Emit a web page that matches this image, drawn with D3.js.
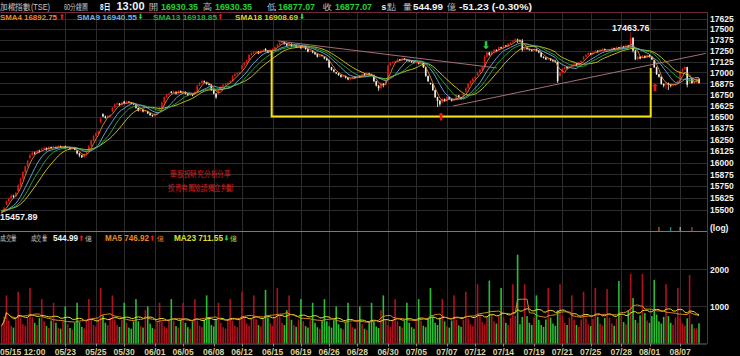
<!DOCTYPE html>
<html><head><meta charset="utf-8">
<script src="https://cdn.jsdelivr.net/npm/d3@7"></script>
<style>
body{margin:0;background:#000;}
svg{display:block;}
text{font-family:"Liberation Sans",Arial,sans-serif;}
</style></head>
<body><svg id="c" width="740" height="356"></svg>
<script>
// ---------- DATA ----------
const tickLabels = ["05/15 12:00","05/23","05/25","05/30","06/01","06/05","06/08","06/12","06/15","06/19","06/26","06/28","06/30","07/05","07/07","07/12","07/14","07/19","07/21","07/25","07/28","08/01","08/07"];
const tickBars   = [0,27,40,52,65,77,90,102,115,127,139,151,164,176,189,201,213,226,238,250,263,275,288];
const priceTicks = [17625,17500,17375,17250,17125,17000,16875,16750,16625,16500,16375,16250,16125,16000,15875,15750,15625,15500];
const volTicks = [1000,2000];
const priorCloses = [15530,15510,15500,15490,15520,15540,15530,15510,15500,15480,15470,15490,15500,15480,15470,15460,15475];

const opens = [
15470,15490,
15560,15590,15620,15650,15640, 15700,15760,15830,15900,15960, 16050,16080,16110,16100,16130, 16140,16150,16160,16140,16170,
16165,16170,16160,16180,16170, 16180,16160,16170,16150,16165, 16130,16100,16080,16060,16090, 16130,16180,16240,16290,16320, 16440,16530,16505,16490,16510,
16560,16600,16640,16650,16630, 16670,16650,16670,16660,16650, 16640,16600,16570,16580,16560,
16560,16540,16520,16510,16530, 16580,16600,16660,16720,16750,
16780,16770,16780,16760,16790, 16770,16780,16760,16740,16750, 16760,16780,16850,16880,16900, 16890,16870,16860,16800,16760, 16760,16800,16840,16860,16870,
16890,16900,16960,16980,16990, 17040,17080,17110,17140,17200, 17230,17230,17240,17220,17250, 17270,17250,17230,17260,17270, 17300,17320,17340,17350,17330,
17320,17330,17300,17310,17290, 17300,17280,17300,17270,17240, 17250,17230,17210,17180,17200,
17180,17160,17140,17060,17030, 17000,16990,16970,16950,16960, 16940,16920,16930,16950,16940, 16960,16950,16980,16970,16990, 16980,16970,16900,16850,16820,
16870,16860,16910,17080,17110, 17130,17130,17150,17140,17160, 17150,17140,17130,17120,17110, 17110,17100,17110,17060,16960, 16880,16870,16800,16720,16680,
16660,16700,16680,16720,16700, 16690,16690,16740,16720,16700, 16780,16820,16870,16900,16930, 16970,17000,17030,17060,17180, 17230,17200,17240,17260,17250,
17290,17280,17310,17300,17330, 17350,17360,17380,17370,17365, 17260,17280,17270,17260,17250, 17270,17250,17230,17180,17170, 17150,17160,17140,17130,17120,
16960,17000,17040,17060,17050, 17080,17090,17100,17080,17110, 17150,17180,17200,17220,17210, 17240,17250,17240,17260,17270, 17250,17250,17260,17280,17270,
17290,17280,17300,17290,17310,
17290,17400,17250,17150,17180, 17170,17190,17170,17200,17180, 17140,17060,16980,16950,16870, 16860,16880,16861,16850,16860,
16880,16900,17010,17040,17060, 16880,16924,16880,16884,16930.35
];
const highs = [
15500,15535,
15600,15630,15665,15660,15690, 15770,15840,15910,15970,16030, 16100,16125,16120,16140,16140, 16165,16175,16165,16180,16175,
16185,16175,16190,16185,16185, 16185,16180,16175,16170,16170, 16135,16110,16085,16100,16120, 16190,16250,16300,16330,16350, 16500,16540,16515,16520,16530,
16610,16650,16660,16655,16670, 16680,16680,16675,16665,16655, 16645,16605,16590,16585,16580,
16565,16545,16525,16540,16560, 16610,16670,16730,16760,16770,
16790,16795,16785,16800,16795, 16790,16785,16765,16760,16755, 16790,16860,16890,16920,16910, 16895,16880,16865,16810,16765, 16810,16850,16870,16880,16890,
16910,16970,16990,17000,17010, 17090,17120,17150,17210,17230, 17245,17250,17245,17260,17270, 17280,17255,17265,17280,17300, 17330,17350,17360,17355,17335,
17345,17335,17320,17315,17310, 17305,17310,17305,17275,17260, 17255,17235,17215,17210,17205,
17185,17165,17145,17065,17040, 17005,16995,16975,16970,16965, 16945,16935,16955,16955,16965, 16965,16985,16990,17000,16995, 16985,16975,16905,16860,16890,
16880,16920,17090,17120,17130, 17140,17160,17155,17170,17165, 17155,17145,17140,17125,17130, 17115,17120,17115,17065,16965, 16885,16875,16805,16725,16690,
16710,16705,16730,16725,16705, 16700,16750,16745,16725,16770, 16830,16880,16910,16940,16960, 17010,17040,17070,17200,17240, 17235,17250,17270,17265,17300,
17295,17320,17315,17340,17350, 17370,17395,17390,17380,17385, 17285,17290,17275,17265,17275, 17275,17255,17235,17185,17175, 17170,17165,17145,17140,17125,
17010,17050,17070,17065,17080, 17100,17110,17105,17120,17140, 17190,17210,17230,17225,17240, 17260,17255,17270,17280,17275, 17255,17270,17290,17285,17300,
17295,17310,17305,17320,17315,
17463.76,17405,17260,17190,17185, 17200,17195,17210,17205,17185, 17145,17065,16985,16955,16875, 16890,16885,16870,16870,16880,
16910,17020,17050,17070,17065, 16935,16930,16900,16940,16930.35
];
const lows = [
15457.89,15480,
15550,15580,15610,15625,15635, 15695,15750,15820,15890,15950, 16040,16070,16085,16095,16110, 16130,16140,16130,16135,16150,
16155,16150,16155,16160,16165, 16150,16155,16140,16145,16135, 16090,16060,16050,16055,16085, 16125,16175,16230,16280,16310, 16430,16495,16480,16485,16500,
16550,16595,16630,16620,16625, 16640,16645,16650,16640,16630, 16590,16560,16560,16550,16555,
16530,16510,16500,16505,16525, 16575,16595,16650,16710,16740,
16760,16765,16750,16755,16765, 16765,16750,16730,16735,16730, 16755,16775,16845,16870,16880, 16860,16850,16790,16750,16700, 16750,16795,16830,16850,16860,
16880,16895,16950,16970,16980, 17030,17070,17100,17135,17190, 17215,17225,17210,17215,17245, 17240,17220,17225,17255,17265, 17295,17315,17335,17320,17300,
17310,17290,17295,17280,17285, 17270,17275,17260,17230,17235, 17220,17200,17170,17175,17180,
17150,17130,17050,17020,17000, 16980,16960,16940,16945,16930, 16910,16905,16925,16930,16935, 16940,16945,16960,16965,16970, 16960,16890,16840,16790,16815,
16830,16850,16905,17070,17100, 17110,17125,17130,17135,17140, 17130,17120,17110,17100,17105, 17090,17095,17050,16950,16890, 16860,16790,16710,16610,16620,
16650,16670,16675,16690,16670, 16680,16685,16710,16690,16695, 16770,16815,16860,16890,16920, 16960,16990,17020,17055,17170, 17190,17195,17230,17240,17245,
17270,17275,17290,17295,17325, 17345,17355,17340,17350,17240, 17255,17260,17250,17240,17245, 17240,17220,17170,17160,17140, 17145,17130,17120,17110,16880,
16950,16990,17030,17040,17045, 17070,17085,17070,17075,17105, 17140,17175,17195,17200,17205, 17235,17230,17235,17255,17250, 17240,17245,17255,17260,17265,
17270,17275,17280,17285,17290,
17280,17230,17140,17140,17150, 17160,17160,17165,17170,17140, 17050,16970,16940,16860,16830, 16810,16800,16830,16840,16850,
16875,16895,17000,17030,16830, 16870,16870,16870,16880,16877.07
];
const closes = [
15490,15520,
15590,15620,15650,15640,15680, 15760,15830,15900,15960,16020, 16080,16110,16100,16130,16120, 16150,16160,16140,16170,16160,
16170,16160,16180,16170,16175, 16160,16170,16150,16165,16140, 16100,16080,16060,16090,16110, 16180,16240,16290,16320,16340, 16480,16505,16490,16510,16520,
16600,16640,16650,16630,16660, 16650,16670,16660,16650,16640, 16600,16570,16580,16560,16570,
16540,16520,16510,16530,16550, 16600,16660,16720,16750,16760,
16770,16780,16760,16790,16770, 16780,16760,16740,16750,16740, 16780,16850,16880,16900,16890, 16870,16860,16800,16760,16720, 16800,16840,16860,16870,16880,
16900,16960,16980,16990,17000, 17080,17110,17140,17200,17220, 17230,17240,17220,17250,17260, 17250,17230,17260,17270,17290, 17320,17340,17350,17330,17310,
17330,17300,17310,17290,17300, 17280,17300,17270,17240,17250, 17230,17210,17180,17200,17190,
17160,17140,17060,17030,17010, 16990,16970,16950,16960,16940, 16920,16930,16950,16940,16960, 16950,16980,16970,16990,16980, 16970,16900,16850,16820,16880,
16860,16910,17080,17110,17120, 17130,17150,17140,17160,17150, 17140,17130,17120,17110,17120, 17100,17110,17060,16960,16900, 16870,16800,16720,16680,16640,
16700,16680,16720,16700,16680, 16690,16740,16720,16700,16760, 16820,16870,16900,16930,16950, 17000,17030,17060,17180,17230, 17200,17240,17260,17250,17290,
17280,17310,17300,17330,17340, 17360,17380,17370,17365,17260, 17280,17270,17260,17250,17270, 17250,17230,17180,17170,17150, 17160,17140,17130,17120,16900,
17000,17040,17060,17050,17070, 17090,17100,17080,17110,17130, 17180,17200,17220,17210,17230, 17250,17240,17260,17270,17260, 17250,17260,17280,17270,17290,
17280,17300,17290,17310,17300,
17400,17250,17150,17180,17160, 17190,17170,17200,17180,17150, 17060,16980,16950,16870,16850, 16880,16861,16850,16860,16870,
16900,17010,17040,17060,16860, 16924,16880,16884,16930,16877.07
];
const volumes = [
480,720,
1300,620,480,430,650, 1400,700,520,480,700, 1500,720,560,500,690, 1200,600,470,420,620,
1100,560,430,400,600, 1000,520,420,380,560, 1100,580,450,410,620, 1200,640,500,460,650, 1500,760,560,500,700,
1300,650,500,450,640, 1100,560,430,400,600, 1200,600,470,430,900,
1000,540,420,390,580, 1100,580,460,420,620,
1200,620,470,430,640, 1100,560,440,400,600, 1200,620,480,440,640, 1300,660,500,460,660, 1100,560,440,400,620,
1200,620,480,440,650, 1400,700,540,480,680, 1300,660,500,460,660, 1450,700,540,480,700, 1500,740,560,500,900,
1300,640,500,450,650, 1200,600,470,430,630, 1100,560,440,400,610,
1200,600,470,430,630, 1000,520,410,380,580, 1100,560,440,400,600, 1000,520,400,370,570, 1100,580,460,420,900,
1300,650,500,450,650, 1200,600,470,430,620, 1100,560,440,400,600, 1200,620,480,440,660, 1500,720,560,500,700,
1200,600,470,430,620, 1300,640,490,450,640, 1400,680,520,470,670, 1600,760,580,520,720, 1700,800,600,540,740,
1500,720,560,500,700, 1600,750,2400,520,720, 1600,740,560,500,700, 1300,640,500,450,650, 1500,700,540,480,900,
1600,740,560,500,700, 1300,640,500,450,650, 1400,680,520,470,670, 1500,720,540,490,690, 1470,700,540,480,680,
1690,760,580,520,900,
1880,1230,640,560,760, 1880,820,620,560,740, 1720,780,600,540,720, 1600,740,560,500,700,
1500,700,540,480,680, 1850,520,410,409.6,544.99
];

// ---------- LAYOUT ----------
const W = 740, H = 356;
const panelTop = 12, panelSep = 231, volBase = 343.5, plotRight = 707;
const N = closes.length;
const svg = d3.select('#c');
svg.append('rect').attr('width', W).attr('height', H).attr('fill', '#000');

const x = d3.scaleLinear().domain([0, N - 1]).range([1.7, 699]);
const y = d3.scaleLog().domain([15283, 17704]).range([panelSep, panelTop]);
const yv = d3.scaleLinear().domain([0, 3040]).range([volBase, panelSep]);

const gridColor = '#2c2c2c';
const g = svg.append('g');
g.selectAll('.hp').data(priceTicks).join('line')
  .attr('x1', 0).attr('x2', plotRight).attr('y1', d => Math.round(y(d)) + 0.5).attr('y2', d => Math.round(y(d)) + 0.5)
  .attr('stroke', gridColor);
g.selectAll('.hv').data(volTicks).join('line')
  .attr('x1', 0).attr('x2', plotRight).attr('y1', d => Math.round(yv(d)) + 0.5).attr('y2', d => Math.round(yv(d)) + 0.5)
  .attr('stroke', gridColor);
g.selectAll('.vg').data(tickBars.slice(1)).join('line')
  .attr('x1', d => Math.round(x(d)) + 0.5).attr('x2', d => Math.round(x(d)) + 0.5)
  .attr('y1', panelTop).attr('y2', volBase)
  .attr('stroke', gridColor);

svg.append('line').attr('x1', 0).attr('x2', plotRight + 0.5).attr('y1', panelTop + 0.5).attr('y2', panelTop + 0.5).attr('stroke', '#6e2a3a');
svg.append('line').attr('x1', plotRight + 0.5).attr('x2', plotRight + 0.5).attr('y1', panelTop).attr('y2', volBase).attr('stroke', '#6e2a3a');
svg.append('line').attr('x1', 0).attr('x2', plotRight).attr('y1', panelSep + 0.5).attr('y2', panelSep + 0.5).attr('stroke', '#8a7078');
svg.append('line').attr('x1', 0).attr('x2', plotRight).attr('y1', volBase + 0.5).attr('y2', volBase + 0.5).attr('stroke', '#6a6a6a');

const axisP = d3.axisRight(y).tickValues(priceTicks).tickFormat(d3.format('d')).tickSize(0).tickPadding(3);
const ap = svg.append('g').attr('transform', `translate(${plotRight},0)`).call(axisP);
ap.select('.domain').remove();
ap.selectAll('text').attr('fill', '#f0f0f0').attr('font-size', 8.5).attr('font-weight', 'bold');
const axisV = d3.axisRight(yv).tickValues(volTicks).tickFormat(d3.format('d')).tickSize(0).tickPadding(3);
const av = svg.append('g').attr('transform', `translate(${plotRight},0)`).call(axisV);
av.select('.domain').remove();
av.selectAll('text').attr('fill', '#f0f0f0').attr('font-size', 8.5).attr('font-weight', 'bold');
svg.append('text').attr('x', plotRight + 3).attr('y', 231).text('(log)').attr('fill', '#f0f0f0').attr('font-size', 8.5).attr('font-weight', 'bold');

const bx = svg.append('g');
bx.selectAll('line').data(tickBars.slice(1)).join('line')
  .attr('x1', d => Math.round(x(d)) + 0.5).attr('x2', d => Math.round(x(d)) + 0.5)
  .attr('y1', volBase).attr('y2', volBase + 3).attr('stroke', '#8a8a8a');
bx.selectAll('text').data(tickLabels).join('text')
  .attr('x', (d, i) => i === 0 ? 0 : x(tickBars[i]))
  .attr('y', 354.5)
  .attr('text-anchor', (d, i) => i === 0 ? 'start' : 'middle')
  .attr('fill', '#dcd49c').attr('font-size', 8.5).attr('font-weight', 'bold')
  .text(d => d);

// ---------- VOLUME ----------
const idx = d3.range(N);
const isUp = i => closes[i] >= opens[i];
svg.append('g').selectAll('rect').data(idx).join('rect')
  .attr('x', i => x(i) - 0.8).attr('width', 1.6)
  .attr('y', i => yv(volumes[i])).attr('height', i => volBase - yv(volumes[i]))
  .attr('fill', i => isUp(i) ? '#b0101c' : '#28c030');

function movAvg(arr, k) {
  return idx.map(i => d3.mean(arr.slice(Math.max(0, i - k + 1), i + 1)));
}
const vma5 = movAvg(volumes, 5);
const vma23 = movAvg(volumes, 23);
const lineV = d3.line().x((d, i) => x(i)).y(d => yv(d));
svg.append('path').datum(vma23).attr('d', lineV).attr('fill', 'none').attr('stroke', '#e8e030').attr('stroke-width', 1);
svg.append('path').datum(vma5).attr('d', lineV).attr('fill', 'none').attr('stroke', '#e08a2a').attr('stroke-width', 1);

// ---------- CANDLES ----------
const cg = svg.append('g');
cg.selectAll('line').data(idx).join('line')
  .attr('x1', i => x(i)).attr('x2', i => x(i))
  .attr('y1', i => y(highs[i])).attr('y2', i => y(lows[i]))
  .attr('stroke', i => isUp(i) ? '#e01818' : '#f0f0f0').attr('stroke-width', 0.8);
cg.selectAll('rect').data(idx).join('rect')
  .attr('x', i => x(i) - 0.8).attr('width', 1.6)
  .attr('y', i => y(Math.max(opens[i], closes[i])))
  .attr('height', i => Math.max(1, y(Math.min(opens[i], closes[i])) - y(Math.max(opens[i], closes[i]))))
  .attr('fill', i => isUp(i) ? '#e01818' : '#f0f0f0');

// ---------- SMAs ----------
const full = priorCloses.concat(closes);
const P = priorCloses.length;
function sma(k) { return idx.map(i => d3.mean(full.slice(Math.max(0, i + P - k + 1), i + P + 1))); }
const lineP = d3.line().x((d, i) => x(i)).y(d => y(d));
const smaDefs = [[18, '#d8d020'], [13, '#28b040'], [9, '#70b0e0'], [4, '#e8882a']];
smaDefs.forEach(([k, c]) => {
  svg.append('path').datum(sma(k)).attr('d', lineP).attr('fill', 'none').attr('stroke', c).attr('stroke-width', 0.9);
});

// ---------- ANNOTATIONS ----------
const trendLines = [
  [[117.3, 17363], [210.2, 17051]],
  [[191.6, 16621], [298.9, 17219]]
];
trendLines.forEach(tl => {
  svg.append('line').attr('x1', x(tl[0][0])).attr('y1', y(tl[0][1])).attr('x2', x(tl[1][0])).attr('y2', y(tl[1][1]))
    .attr('stroke', '#b87880').attr('stroke-width', 0.9);
});
const yellowPath = [[114.6, 17250], [114.6, 16503], [275.5, 16503], [275.5, 17051]];
svg.append('path').datum(yellowPath)
  .attr('d', d3.line().x(d => x(d[0])).y(d => y(d[1])))
  .attr('fill', 'none').attr('stroke', '#f4e21c').attr('stroke-width', 2);

function arrow(cx, cy, up, color, s) {
  const h = 4 * s, w = 3 * s, t = 1.3 * s;
  const d = up
    ? `M${cx},${cy - h}L${cx + w},${cy - h + w}L${cx + t},${cy - h + w}L${cx + t},${cy + h}L${cx - t},${cy + h}L${cx - t},${cy - h + w}L${cx - w},${cy - h + w}Z`
    : `M${cx},${cy + h}L${cx + w},${cy + h - w}L${cx + t},${cy + h - w}L${cx + t},${cy - h}L${cx - t},${cy - h}L${cx - t},${cy + h - w}L${cx - w},${cy + h - w}Z`;
  svg.append('path').attr('d', d).attr('fill', color);
}
const markers = [[186.5, 16503, true, '#e01818'], [205.6, 17313, false, '#28d040'], [277.3, 16831, true, '#e01818']];
markers.forEach(m => arrow(x(m[0]), y(m[1]), m[2], m[3], 1));

svg.append('text').attr('x', x(267)).attr('y', 31).attr('text-anchor', 'middle').attr('fill', '#f0f0f0')
  .attr('font-size', 9).attr('font-weight', 'bold').text('17463.76');
svg.append('text').attr('x', 0).attr('y', 220).attr('fill', '#f0f0f0')
  .attr('font-size', 9).attr('font-weight', 'bold').text('15457.89');

svg.append('text').attr('x', 170).attr('y', 177).attr('fill', '#e01c1c').attr('font-size', 8.5)
  .attr('font-family', '"Noto Sans CJK TC",sans-serif').attr('textLength', 61).attr('lengthAdjust', 'spacingAndGlyphs').text('華股投研究分析分享');
svg.append('text').attr('x', 168).attr('y', 191).attr('fill', '#e01c1c').attr('font-size', 8.5)
  .attr('font-family', '"Noto Sans CJK TC",sans-serif').attr('textLength', 66).attr('lengthAdjust', 'spacingAndGlyphs').text('投資有風險請獨立判斷');

const eventTicks = [[279, '#e08a2a'], [284, '#28b0a0'], [288, '#d0d0d0'], [293, '#e05050']];
eventTicks.forEach(e => svg.append('line').attr('x1', x(e[0])).attr('x2', x(e[0])).attr('y1', 227).attr('y2', 231).attr('stroke', e[1]));

// ---------- HEADER / LEGENDS ----------
function txt(xp, yp, s, color, size, bold, fam, len) {
  const t = svg.append('text').attr('x', xp).attr('y', yp).attr('fill', color).attr('font-size', size)
    .attr('font-weight', bold ? 'bold' : 'normal')
    .attr('font-family', fam || '"Liberation Sans",Arial,"Noto Sans CJK TC",sans-serif').text(s);
  if (len) t.attr('textLength', len).attr('lengthAdjust', 'spacingAndGlyphs');
}
const cjk = '"Noto Sans CJK TC",sans-serif';
const gray = '#c8c8c8', green = '#22d030', white = '#f4f4f4';
txt(0, 9.5, '加權指數(TSE)', gray, 8.5, false, cjk, 50);
txt(64, 9.5, '60分鐘圖', gray, 8.5, false, cjk, 24);
txt(100, 9.5, '8日', white, 9, true, cjk, 10);
txt(116.5, 9.5, '13:00', white, 10, true, null, 28);
txt(149, 9.5, '開', gray, 8.5, false, cjk);
txt(161, 9.5, '16930.35', green, 9, true, null, 37);
txt(203, 9.5, '高', gray, 8.5, false, cjk);
txt(215, 9.5, '16930.35', green, 9, true, null, 37);
txt(267, 9.5, '低', gray, 8.5, false, cjk);
txt(278, 9.5, '16877.07', green, 9, true, null, 37);
txt(323, 9.5, '收', gray, 8.5, false, cjk);
txt(335, 9.5, '16877.07', green, 9, true, null, 37);
txt(381.5, 9.5, 's', white, 8.5, true);
txt(387, 9.5, '點', gray, 8.5, false, cjk);
txt(403, 9.5, '量', gray, 8.5, false, cjk);
txt(413, 9.5, '544.99', white, 9, true, null, 30);
txt(447, 9.5, '億', gray, 8.5, false, cjk);
txt(459, 9.5, '-51.23 (-0.30%)', white, 9, true, null, 73);

const legY = 19.5;
function legArrow(xp, yp, up, color) { arrow(xp, yp, up, color, 0.7); }
txt(0, legY, 'SMA4 16892.75', '#e8882a', 8, true, null, 57); legArrow(62, legY - 3, true, '#e01818');
txt(77, legY, 'SMA9 16940.55', '#70b0e0', 8, true, null, 60); legArrow(140.5, legY - 3, false, '#28d040');
txt(153, legY, 'SMA13 16918.85', '#28b040', 8, true, null, 64); legArrow(220.5, legY - 3, true, '#e01818');
txt(235, legY, 'SMA18 16908.69', '#d8d020', 8, true, null, 63); legArrow(302, legY - 3, false, '#28d040');

const vY = 241;
txt(0, vY, '成交量', gray, 8, false, cjk, 17);
txt(31, vY, '成交量', gray, 8, false, cjk, 16);
txt(53, vY, '544.99', white, 8.5, true, null, 25); legArrow(81.5, vY - 3, true, '#e01818'); txt(85, vY, '億', gray, 7, false, cjk);
txt(105, vY, 'MA5 746.92', '#e8882a', 8.5, true, null, 44); legArrow(152.5, vY - 3, true, '#e01818'); txt(157, vY, '億', '#e8882a', 7, false, cjk);
txt(174, vY, 'MA23 711.55', '#d8e030', 8.5, true, null, 49); legArrow(226.5, vY - 3, false, '#28d040'); txt(230, vY, '億', '#d8e030', 7, false, cjk);
</script>
</body></html>
